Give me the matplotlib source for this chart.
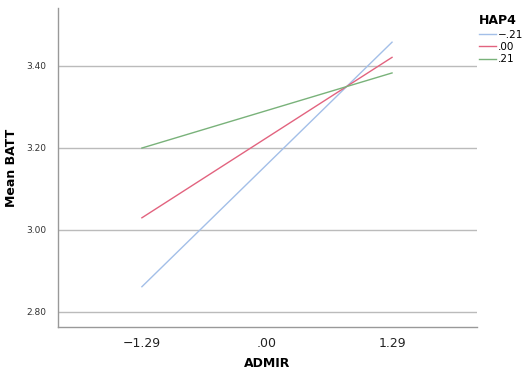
import matplotlib
matplotlib.use("Agg")
import matplotlib.pyplot as plt

x_labels = ["\u22121.29", ".00", "1.29"]
x_ends = [0, 2]
groups = ["\u2212.21", ".00", ".21"]
colors = ["#a3bfe8", "#e2637f", "#79b27a"]
batt_lo = [2.861, 3.029, 3.199]
batt_hi = [3.457, 3.420, 3.382]

fig = plt.figure(figsize=(5.26, 3.69), dpi=100)
ax = fig.add_axes([0.110, 0.114, 0.797, 0.864])

for g, c, lo, hi in zip(groups, colors, batt_lo, batt_hi):
    ax.plot(x_ends, [lo, hi], color=c, lw=1.0, label=g)

ax.set_xlim(-0.672, 2.68)
ax.set_ylim(2.763, 3.54)
ax.set_xticks([0, 1, 2])
ax.set_xticklabels(x_labels, fontsize=9, color="#222222")
ax.set_yticks([2.8, 3.0, 3.2, 3.4])
ax.set_yticklabels(["2.80", "3.00", "3.20", "3.40"], fontsize=6.5, color="#333333")
ax.tick_params(axis="both", length=0)
ax.tick_params(axis="x", pad=7)
ax.tick_params(axis="y", pad=8)
ax.yaxis.grid(True, color="#bbbbbb", lw=1.0)
ax.set_axisbelow(True)
for s in ["top", "right"]:
    ax.spines[s].set_visible(False)
for s in ["left", "bottom"]:
    ax.spines[s].set_color("#999999")
    ax.spines[s].set_linewidth(1.0)

ax.set_xlabel("ADMIR", fontsize=9, fontweight="bold", labelpad=5)
ax.set_ylabel("Mean BATT", fontsize=9, fontweight="bold", labelpad=6)

leg = ax.legend(loc="upper left", bbox_to_anchor=(0.995, 0.995), frameon=False,
                title="HAP4", fontsize=7.5, handlelength=1.6, handletextpad=0.2,
                labelspacing=0.22, borderaxespad=0.0)
leg.get_title().set_fontweight("bold")
leg.get_title().set_fontsize(9)
leg._legend_box.align = "left"
leg._legend_box.sep = 2

fig.savefig("out.png", dpi=100)
